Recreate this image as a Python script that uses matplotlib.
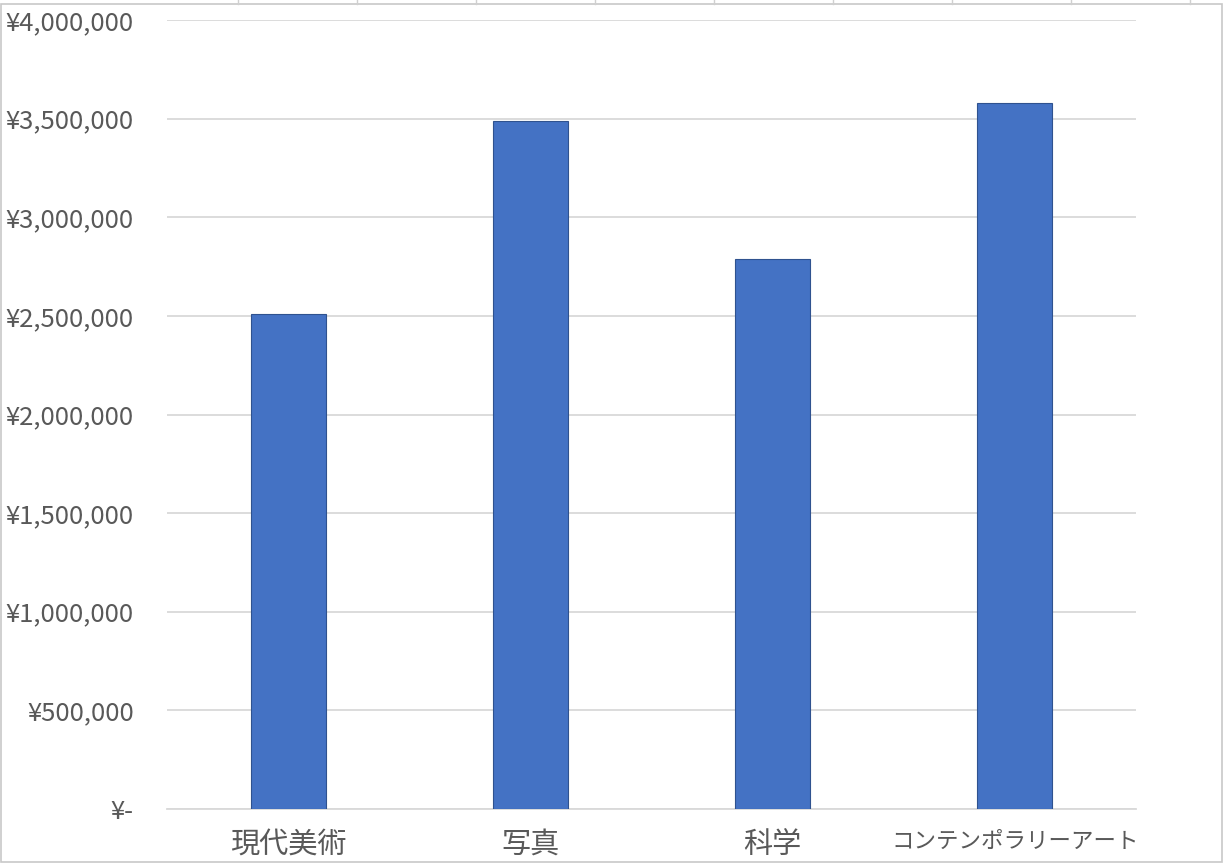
import matplotlib
matplotlib.use('Agg')
import matplotlib.pyplot as plt
from matplotlib.ticker import FuncFormatter
from matplotlib.patches import Rectangle
from matplotlib.lines import Line2D

plt.rcParams['font.family'] = ['Noto Sans CJK JP', 'DejaVu Sans']

# data
categories = ['現代美術', '写真', '科学', 'コンテンポラリーアート']
sales = [2510000, 3490000, 2790000, 3580000]
y_ticks = [0, 500000, 1000000, 1500000, 2000000, 2500000, 3000000, 3500000, 4000000]

bar_color = '#4472C4'
edge_color = '#2F528F'
grid_color = '#D9D9D9'
text_color = '#595959'

fig = plt.figure(figsize=(12.27, 8.64), dpi=100)
ax = fig.add_axes([167/1227, 55/864, 969/1227, 789/864])

x = range(len(categories))
ax.bar(x, sales, width=0.31, color=bar_color, edgecolor=edge_color, linewidth=0.8, zorder=3)

ax.set_xlim(-0.5, len(categories) - 0.5)
ax.set_ylim(0, 4000000)
ax.set_yticks(y_ticks)

def yen(v, pos):
    if v == 0:
        return '¥-'
    return '¥{:,.0f}'.format(v)

ax.yaxis.set_major_formatter(FuncFormatter(yen))
ax.grid(axis='y', color=grid_color, linewidth=1.3, zorder=0)
ax.set_axisbelow(True)

for s in ['left', 'right', 'top']:
    ax.spines[s].set_visible(False)
ax.spines['bottom'].set_color(grid_color)
ax.spines['bottom'].set_linewidth(1.3)

ax.tick_params(axis='y', length=0, pad=24, labelsize=18.5, labelcolor=text_color)
ax.tick_params(axis='x', length=0, pad=15, labelcolor=text_color)
ax.set_xticks(list(x))
ax.set_xticklabels(categories)
for lbl in ax.get_xticklabels():
    # the long katakana label is set narrower in the original
    lbl.set_fontsize(16.2 if len(lbl.get_text()) > 6 else 21)

# chart frame and the spreadsheet cell lines peeking out at the top
fig.add_artist(Rectangle((1/1227, 2/864), 1221/1227, 858/864, transform=fig.transFigure,
                         fill=False, edgecolor='#C8C8C8', linewidth=1.2))
for cx in [238, 357, 476, 595, 714, 833, 952, 1071, 1190]:
    fig.add_artist(Line2D([cx/1227, cx/1227], [860/864, 1], transform=fig.transFigure,
                          color='#D0D0D0', linewidth=1))

fig.savefig('out.png', dpi=100, facecolor='white')
